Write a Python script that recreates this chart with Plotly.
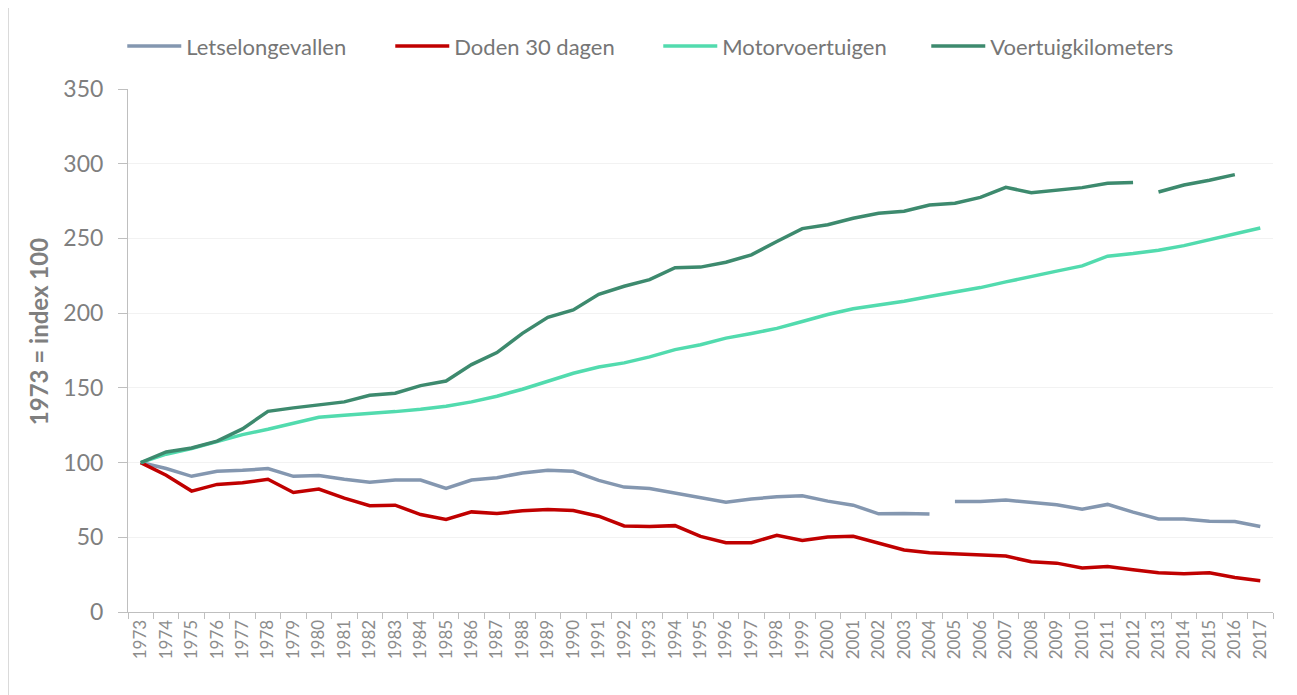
import plotly.graph_objects as go

years = list(range(1973, 2018))

letselongevallen = [100, 96.0, 90.8, 94.2, 94.8, 96.0, 90.8, 91.3, 88.8, 86.8,
                    88.3, 88.3, 82.7, 88.3, 89.9, 93.0, 94.8, 94.2, 88.1, 83.6,
                    82.7, 79.6, 76.5, 73.5, 75.6, 77.1, 77.8, 74.2, 71.5, 65.7,
                    65.9, 65.5, 74.0, 74.0, 74.9, 73.5, 71.7, 68.8, 72.0, 66.8,
                    62.3, 62.3, 60.8, 60.5, 57.2]
doden_30_dagen = [100, 91.5, 80.9, 85.4, 86.5, 88.8, 80.0, 82.3, 76.2, 71.1,
                  71.5, 65.2, 61.9, 67.0, 65.9, 67.7, 68.6, 67.9, 64.1, 57.6,
                  57.2, 57.8, 50.6, 46.4, 46.4, 51.3, 47.8, 50.2, 50.7, 46.2,
                  41.5, 39.7, 38.8, 37.9, 37.4, 33.6, 32.7, 29.4, 30.5, 28.3,
                  26.2, 25.6, 26.2, 23.1, 20.9]
motorvoertuigen = [100, 105.6, 109.4, 114.0, 118.7, 122.3, 126.5, 130.3, 131.7, 132.8,
                   134.1, 135.7, 137.7, 140.6, 144.4, 149.1, 154.4, 159.8, 164.0, 166.7,
                   170.7, 175.6, 178.9, 183.3, 186.4, 189.8, 194.4, 199.1, 202.9, 205.3,
                   208.0, 211.1, 214.0, 217.1, 220.9, 224.7, 228.1, 231.6, 238.1, 239.9,
                   242.1, 245.2, 249.2, 252.8, 257.0]
voertuigkilometers = [100, 107.1, 109.8, 114.3, 122.5, 134.3, 136.6, 138.4, 140.6, 145.0,
                      146.4, 151.5, 154.6, 165.6, 173.6, 186.5, 197.2, 202.1, 212.6, 218.0,
                      222.4, 230.4, 230.8, 234.1, 239.0, 247.9, 256.6, 259.2, 263.5, 266.8,
                      268.2, 272.4, 273.5, 277.5, 284.2, 280.6, 282.4, 284.0, 286.9, 287.5,
                      281.1, 285.7, 288.9, 292.7, None]

# series breaks (line interrupted after this year)
letsel_break_after = 2004
km_break_after = 2012

y_ticks = [0, 50, 100, 150, 200, 250, 300, 350]

FONT = "Lato"

series = [
    ("Letselongevallen", letselongevallen, "#8497B0", letsel_break_after),
    ("Doden 30 dagen", doden_30_dagen, "#C00000", None),
    ("Motorvoertuigen", motorvoertuigen, "#52DBAE", None),
    ("Voertuigkilometers", voertuigkilometers, "#3D8A6E", km_break_after),
]

fig = go.Figure()
cats = [str(y) for y in years]
for name, vals, color, brk in series:
    if brk is None:
        segs = [(cats, vals)]
    else:
        i = years.index(brk) + 1
        segs = [(cats[:i], vals[:i]), (cats[i:], vals[i:])]
    for k, (xs, ys) in enumerate(segs):
        fig.add_trace(go.Scatter(
            x=xs, y=ys, mode="lines", name=name, legendgroup=name,
            showlegend=(k == 0),
            line=dict(color=color, width=3.5), connectgaps=False,
        ))

fig.update_layout(
    width=1289, height=687,
    margin=dict(l=120, r=24, t=81, b=83),
    paper_bgcolor="white", plot_bgcolor="white",
    font=dict(family=FONT, color="#7f7f7f"),
    showlegend=True,
    legend=dict(orientation="h", x=-0.005, xanchor="left", y=1.082, yanchor="middle",
                font=dict(size=22, color="#767676"), entrywidth=199,
                entrywidthmode="pixels", itemwidth=54),
    xaxis=dict(type="category", categoryorder="array", categoryarray=cats,
               range=[-0.5, len(cats) - 0.5], tickson="boundaries",
               ticks="outside", ticklen=6, tickcolor="#BFBFBF", tickangle=-90,
               showline=True, linecolor="#BFBFBF", linewidth=1, showgrid=False,
               tickfont=dict(size=17, color="#8c8c8c", family=FONT)),
    yaxis=dict(range=[0, 350], tickvals=y_ticks, ticks="outside", ticklen=9,
               tickcolor="#BFBFBF", showline=True, linecolor="#BFBFBF", linewidth=1,
               showgrid=True, gridcolor="#F2F2F2", gridwidth=1, zeroline=False,
               tickfont=dict(size=23, color="#7f7f7f", family=FONT),
               ticklabelstandoff=10),
    annotations=[dict(text="<b>1973 = index 100</b>", textangle=-90,
                      xref="paper", yref="paper", x=-0.0786, y=0.535,
                      xanchor="center", yanchor="middle",
                      showarrow=False, font=dict(size=24, color="#7f7f7f", family=FONT))],
    shapes=[dict(type="line", xref="paper", yref="paper", x0=-0.1044, x1=-0.1044,
                 y0=-0.2, y1=1.2, line=dict(color="#D9D9D9", width=1))],
)

fig.write_html("out.html")
